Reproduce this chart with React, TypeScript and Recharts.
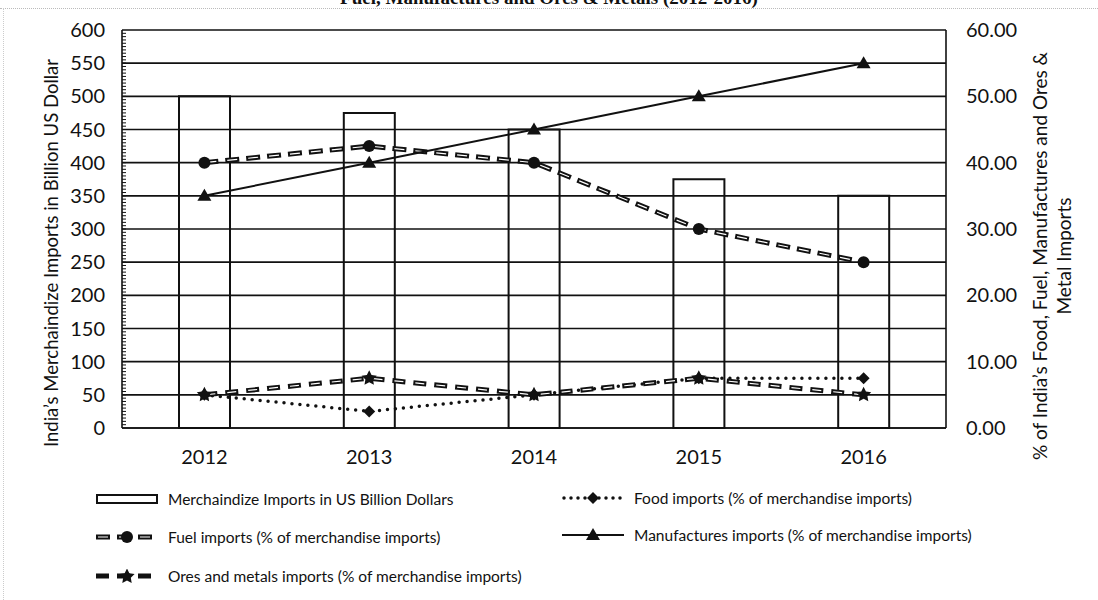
import React from 'react';
import { ComposedChart, Bar, Line, XAxis, YAxis, CartesianGrid, ReferenceLine } from 'recharts';

const years = ['2012', '2013', '2014', '2015', '2016'];
const merchandise = [500, 475, 450, 375, 350];
const food = [5, 2.5, 5, 7.5, 7.5];
const fuel = [40, 42.5, 40, 30, 25];
const manufactures = [35, 40, 45, 50, 55];
const ores = [5, 7.5, 5, 7.5, 5];

const leftTicks = [0, 50, 100, 150, 200, 250, 300, 350, 400, 450, 500, 550, 600];
const rightTicks = [0, 10, 20, 30, 40, 50, 60];
// small marks along the left axis, every 5
const minorTicks = Array.from({ length: 119 }, (_, i) => (i + 1) * 5);

const FONT = 'Lato, "DejaVu Sans", sans-serif';
const INK = '#111';

const data = years.map((year, i) => ({
  year,
  merchandise: merchandise[i],
  food: food[i],
  fuel: fuel[i],
  manufactures: manufactures[i],
  ores: ores[i],
}));

// marker shapes
const circleDot = (p: any) => <circle key={`c-${p.index}`} cx={p.cx} cy={p.cy} r={6} fill={INK} />;
const triangleDot = (p: any) => (
  <path key={`t-${p.index}`} d={`M${p.cx},${p.cy - 7} L${p.cx + 7},${p.cy + 5} L${p.cx - 7},${p.cy + 5} Z`} fill={INK} />
);
const diamondDot = (p: any) => (
  <path key={`d-${p.index}`} d={`M${p.cx},${p.cy - 6} L${p.cx + 6},${p.cy} L${p.cx},${p.cy + 6} L${p.cx - 6},${p.cy} Z`} fill={INK} />
);
const starPath = (cx: number, cy: number, R: number, r: number) => {
  let d = '';
  for (let k = 0; k < 10; k++) {
    const rad = k % 2 === 0 ? R : r;
    const a = -Math.PI / 2 + (k * Math.PI) / 5;
    d += `${k === 0 ? 'M' : 'L'}${cx + rad * Math.cos(a)},${cy + rad * Math.sin(a)} `;
  }
  return d + 'Z';
};
const starDot = (p: any) => <path key={`s-${p.index}`} d={starPath(p.cx, p.cy, 8, 4)} fill={INK} />;

// short inward mark on the left axis
const minorMark = (p: any) => <line x1={p.x1} y1={p.y1} x2={p.x1 + 4} y2={p.y1} stroke={INK} strokeWidth={1} />;

const LegendIcon = ({ kind }: { kind: string }) => {
  const w = 62;
  return (
    <svg width={w} height={14} style={{ display: 'block' }}>
      {kind === 'bar' && <rect x={1} y={3} width={w - 2} height={8} fill="none" stroke={INK} strokeWidth={2} />}
      {kind === 'food' && (
        <g>
          <line x1={2} y1={7} x2={w - 2} y2={7} stroke={INK} strokeWidth={3.5} strokeDasharray="0 7" strokeLinecap="round" />
          <path d={`M${w / 2},1 L${w / 2 + 6},7 L${w / 2},13 L${w / 2 - 6},7 Z`} fill={INK} />
        </g>
      )}
      {kind === 'fuel' && (
        <g>
          <line x1={0} y1={7} x2={w} y2={7} stroke={INK} strokeWidth={5} strokeDasharray="14 7" />
          <line x1={0} y1={7} x2={w} y2={7} stroke="#fff" strokeWidth={1.2} strokeDasharray="0 2 10 9" />
          <circle cx={w / 2} cy={7} r={6} fill={INK} />
        </g>
      )}
      {kind === 'manu' && (
        <g>
          <line x1={0} y1={7} x2={w} y2={7} stroke={INK} strokeWidth={2} />
          <path d={`M${w / 2},0 L${w / 2 + 7},12 L${w / 2 - 7},12 Z`} fill={INK} />
        </g>
      )}
      {kind === 'ores' && (
        <g>
          <line x1={0} y1={7} x2={w} y2={7} stroke={INK} strokeWidth={5} strokeDasharray="13 8" />
          <path d={starPath(w / 2, 7.5, 8, 4)} fill={INK} />
        </g>
      )}
    </svg>
  );
};

const LegendItem = ({ kind, label, x, y }: { kind: string; label: string; x: number; y: number }) => (
  <div style={{ position: 'absolute', left: x, top: y - 10, height: 20, display: 'flex', alignItems: 'center', gap: 10 }}>
    <LegendIcon kind={kind} />
    <span style={{ fontSize: 15.5, color: INK, whiteSpace: 'nowrap' }}>{label}</span>
  </div>
);

export default function App() {
  return (
    <div style={{ position: 'absolute', left: 0, top: 0, width: 1098, height: 600, background: '#fff', overflow: 'hidden', fontFamily: FONT }}>
      <div style={{ position: 'absolute', top: -13, width: '100%', textAlign: 'center', fontSize: 19, fontWeight: 700, color: INK, fontFamily: '"Liberation Serif", serif' }}>
        Fuel, Manufactures and Ores &amp; Metals (2012-2016)
      </div>
      <div style={{ position: 'absolute', top: 8, left: 0, width: 1098, borderTop: '1px dotted #bbb' }} />
      <div style={{ position: 'absolute', top: 8, left: 3, height: 592, borderLeft: '1px dotted #ccc' }} />
      <ComposedChart
        width={1098}
        height={600}
        data={data}
        margin={{ top: 30, right: 0, bottom: 132, left: 0 }}
        style={{ position: 'absolute', left: 0, top: 0 }}
      >
        <CartesianGrid vertical={false} stroke={INK} strokeWidth={1.6} yAxisId="left" />
        <XAxis
          dataKey="year"
          axisLine={{ stroke: INK, strokeWidth: 1.6 }}
          tickLine={false}
          tickMargin={16}
          height={40}
          tick={{ fill: INK, fontSize: 20, fontFamily: FONT }}
        />
        <YAxis
          yAxisId="left"
          domain={[0, 600]}
          ticks={leftTicks}
          interval={0}
          width={122}
          axisLine={{ stroke: INK, strokeWidth: 1.6 }}
          tickLine={false}
          tickMargin={11}
          tick={{ fill: INK, fontSize: 20, fontFamily: FONT }}
        />
        <YAxis
          yAxisId="right"
          orientation="right"
          domain={[0, 60]}
          ticks={rightTicks}
          interval={0}
          width={152}
          axisLine={{ stroke: INK, strokeWidth: 1.6 }}
          tickLine={false}
          tickMargin={14}
          tickFormatter={(v: number) => v.toFixed(2)}
          tick={{ fill: INK, fontSize: 20, fontFamily: FONT, textAnchor: 'start' }}
        />
        {minorTicks.map((v) => (
          <ReferenceLine key={`m-${v}`} yAxisId="left" y={v} shape={minorMark} />
        ))}
        <Bar yAxisId="left" dataKey="merchandise" barSize={51} fill="transparent" stroke={INK} strokeWidth={2} isAnimationActive={false} />
        <Line yAxisId="right" dataKey="food" stroke={INK} strokeWidth={3.5} strokeDasharray="0 8" strokeLinecap="round" dot={diamondDot} activeDot={false} isAnimationActive={false} />
        <Line yAxisId="right" dataKey="ores" stroke={INK} strokeWidth={5} strokeDasharray="13 8" dot={false} activeDot={false} isAnimationActive={false} />
        <Line yAxisId="right" dataKey="ores" stroke="#fff" strokeWidth={1.2} strokeDasharray="0 2 9 10" dot={starDot} activeDot={false} legendType="none" isAnimationActive={false} />
        <Line yAxisId="right" dataKey="fuel" stroke={INK} strokeWidth={5} strokeDasharray="14 7" dot={false} activeDot={false} isAnimationActive={false} />
        <Line yAxisId="right" dataKey="fuel" stroke="#fff" strokeWidth={1.2} strokeDasharray="0 2 10 9" dot={circleDot} activeDot={false} legendType="none" isAnimationActive={false} />
        <Line yAxisId="right" dataKey="manufactures" stroke={INK} strokeWidth={2} dot={triangleDot} activeDot={false} isAnimationActive={false} />
      </ComposedChart>

      <div style={{ position: 'absolute', left: 51, top: 253, transform: 'translate(-50%, -50%) rotate(-90deg)', whiteSpace: 'nowrap', fontSize: 18.5, color: INK }}>
        India’s Merchaindize Imports in Billion US Dollar
      </div>
      <div style={{ position: 'absolute', left: 1052, top: 256, width: 0, height: 0 }}>
        <div style={{ position: 'absolute', left: 0, top: 0, transform: 'translate(-50%, -50%) rotate(-90deg)', whiteSpace: 'nowrap', fontSize: 19, color: INK, textAlign: 'center', lineHeight: '24px' }}>
          % of India’s Food, Fuel, Manufactures and Ores &amp;<br />Metal Imports
        </div>
      </div>

      <LegendItem kind="bar" label="Merchaindize Imports in US Billion Dollars" x={96} y={499} />
      <LegendItem kind="food" label="Food imports (% of merchandise imports)" x={562} y={498} />
      <LegendItem kind="fuel" label="Fuel imports (% of merchandise imports)" x={96} y={537} />
      <LegendItem kind="manu" label="Manufactures imports (% of merchandise imports)" x={562} y={535} />
      <LegendItem kind="ores" label="Ores and metals imports (% of merchandise imports)" x={96} y={576} />
    </div>
  );
}
